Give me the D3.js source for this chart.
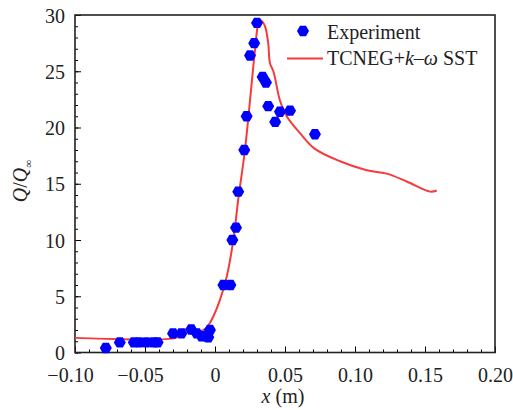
<!DOCTYPE html>
<html lang="en">
<head>
<meta charset="UTF-8">
<title>Q/Qinf</title>
<script src="https://d3js.org/d3.v7.min.js"></script>
<style>
  body {margin: 0; background: #fff;}
  svg {display: block; font-family: "Liberation Serif", serif;}
  text {font-family: "Liberation Serif", serif; fill: #222;}
</style>
</head>
<body>
<svg id="fig" width="513" height="410"></svg>
<script>
// experiment points
let expX = [-0.078, -0.068, -0.058, -0.054, -0.049, -0.044, -0.041,
    -0.030, -0.024, -0.017, -0.013, -0.0095, -0.006, -0.0048, -0.0036,
    0.006, 0.011, 0.0124, 0.015, 0.0166, 0.0209, 0.0226, 0.025, 0.028, 0.030,
    0.034, 0.0364, 0.038, 0.043, 0.0464, 0.0536, 0.0714]
let expY = [0.4, 0.9, 0.9, 0.9, 0.9, 0.9, 0.9,
    1.7, 1.7, 2.05, 1.7, 1.45, 1.45, 1.35, 2.0,
    6.0, 6.0, 10.0, 11.1, 14.3, 18.0, 21.0, 26.4, 27.5, 29.3,
    24.5, 24.0, 21.9, 20.5, 21.4, 21.5, 19.4]

// TCNEG + k-w SST curve
let simX = [-0.10, -0.028, -0.025, -0.022, -0.018, -0.0107, -0.007, -0.0048, -0.0012,
    0.0036, 0.0083, 0.0131, 0.0166, 0.0214, 0.025, 0.0286, 0.031, 0.0329, 0.0357,
    0.038, 0.0393, 0.0417, 0.0464, 0.0512, 0.0607, 0.0714, 0.0893, 0.1084,
    0.1226, 0.1369, 0.1536, 0.1584]
let simY = [1.3, 1.3, 1.6, 2.05, 2.0, 1.9, 2.1, 2.4, 3.2,
    4.7, 6.7, 10, 13.6, 18, 22.4, 26.9, 29.2, 29.5, 29.0,
    27.5, 25.7, 25.0, 22.4, 21.0, 19.5, 18.1, 17.0, 16.2,
    15.9, 15.2, 14.3, 14.4]

let xTicks = [-0.10, -0.05, 0, 0.05, 0.10, 0.15, 0.20]
let xTickLabels = ["\u22120.10", "\u22120.05", "0", "0.05", "0.10", "0.15", "0.20"]
let yTicks = [0, 5, 10, 15, 20, 25, 30]

let mLeft = 75, mRight = 495, mTop = 15, mBottom = 352.5
let fs = 20
let svg = d3.select("#fig")

let x = d3.scaleLinear().domain([-0.10, 0.20]).range([mLeft, mRight])
let y = d3.scaleLinear().domain([0, 30]).range([mBottom, mTop])

// minor ticks (inward)
let xMinor = d3.range(-0.10, 0.2001, 0.01)
let yMinor = d3.range(0, 30.01, 1)

svg.append("g").attr("transform", `translate(0,${mBottom})`)
    .call(d3.axisBottom(x).tickValues(xMinor).tickSize(-3).tickFormat(""))
    .call(g => g.select(".domain").remove())
svg.append("g").attr("transform", `translate(${mLeft},0)`)
    .call(d3.axisLeft(y).tickValues(yMinor).tickSize(-3).tickFormat(""))
    .call(g => g.select(".domain").remove())

// major ticks
svg.append("g").attr("transform", `translate(0,${mBottom})`)
    .call(d3.axisBottom(x).tickValues(xTicks).tickSize(-6).tickPadding(15)
        .tickFormat((d, i) => xTickLabels[i]))
    .call(g => g.select(".domain").remove())
    .call(g => g.attr("font-family", null).attr("font-size", fs))
    .call(g => g.selectAll("text").attr("dx", d => d < 0 ? -5 : 0))
svg.append("g").attr("transform", `translate(${mLeft},0)`)
    .call(d3.axisLeft(y).tickValues(yTicks).tickSize(-6).tickPadding(10).tickFormat(d3.format("d")))
    .call(g => g.select(".domain").remove())
    .call(g => g.attr("font-family", null).attr("font-size", fs))
    .call(g => g.selectAll("text").attr("dy", "0.35em"))

// frame
svg.append("rect").attr("x", mLeft).attr("y", mTop)
    .attr("width", mRight - mLeft).attr("height", mBottom - mTop)
    .attr("fill", "none").attr("stroke", "#222").attr("stroke-width", 1.6)

// curve
let line = d3.line().x(d => x(d[0])).y(d => y(d[1])).curve(d3.curveCatmullRom)
svg.append("path").datum(d3.zip(simX, simY))
    .attr("d", line).attr("fill", "none")
    .attr("stroke", "#f53b3b").attr("stroke-width", 2)

// hexagon markers
function hexagon(r) {
    let pts = d3.range(6).map(i => {
        let a = Math.PI / 3 * i
        return [r * Math.cos(a), r * Math.sin(a)]
    })
    return "M" + pts.join("L") + "Z"
}
svg.append("g").selectAll("path").data(d3.zip(expX, expY)).join("path")
    .attr("transform", d => `translate(${x(d[0])},${y(d[1])})`)
    .attr("d", hexagon(6)).attr("fill", "#0000ff")

// legend
let lg = svg.append("g").attr("font-size", fs)
lg.append("path").attr("transform", "translate(303,31)").attr("d", hexagon(6)).attr("fill", "#0000ff")
lg.append("text").attr("x", 327).attr("y", 39).text("Experiment")
lg.append("line").attr("x1", 287).attr("x2", 323).attr("y1", 58.5).attr("y2", 58.5)
    .attr("stroke", "#f53b3b").attr("stroke-width", 2)
let t2 = lg.append("text").attr("x", 327).attr("y", 65)
t2.append("tspan").text("TCNEG+")
t2.append("tspan").attr("font-style", "italic").text("k")
t2.append("tspan").text("\u2013")
t2.append("tspan").attr("font-style", "italic").text("\u03c9")
t2.append("tspan").text(" SST")

// axis labels
let xl = svg.append("text").attr("x", 283).attr("y", 403).attr("text-anchor", "middle").attr("font-size", fs)
xl.append("tspan").attr("font-style", "italic").text("x")
xl.append("tspan").text(" (m)")

let yl = svg.append("text").attr("transform", "translate(27,181) rotate(-90)")
    .attr("text-anchor", "middle").attr("font-size", fs)
yl.append("tspan").attr("font-style", "italic").text("Q")
yl.append("tspan").text("/")
yl.append("tspan").attr("font-style", "italic").text("Q")
yl.append("tspan").attr("font-size", 11).attr("dy", 5).text("\u221e")
</script>
</body>
</html>
